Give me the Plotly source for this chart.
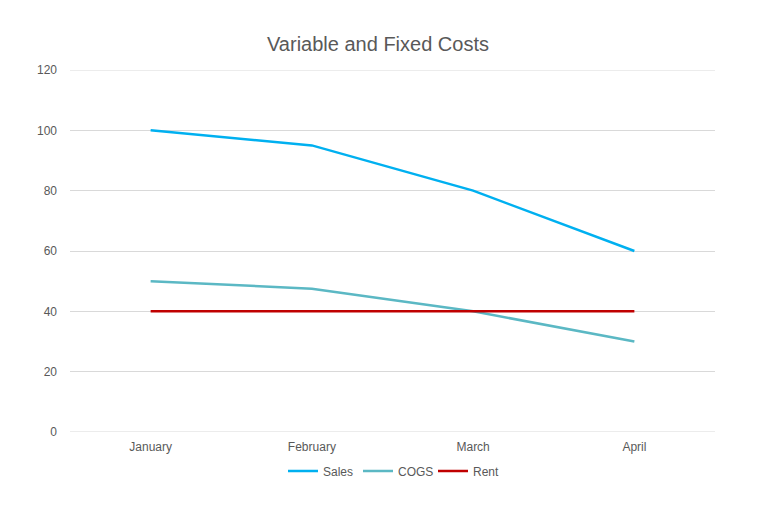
import plotly.graph_objects as go

months = ["January", "February", "March", "April"]
sales = [100, 95, 80, 60]
cogs = [50, 47.5, 40, 30]
rent = [40, 40, 40, 40]

font = "Liberation Sans, Arial, sans-serif"
fig = go.Figure()
fig.add_trace(go.Scatter(x=months, y=sales, mode="lines", name="Sales",
                         line=dict(color="#00B0F0", width=2.5)))
fig.add_trace(go.Scatter(x=months, y=cogs, mode="lines", name="COGS",
                         line=dict(color="#5BB8C4", width=2.5)))
fig.add_trace(go.Scatter(x=months, y=rent, mode="lines", name="Rent",
                         line=dict(color="#C00000", width=2.5)))

fig.update_layout(
    width=768, height=505,
    margin=dict(l=70, r=53, t=70, b=73),
    paper_bgcolor="white", plot_bgcolor="white",
    font=dict(family=font, color="#595959", size=12),
    title=dict(text="Variable and Fixed Costs", x=378 / 768, xanchor="center",
               y=1 - 44 / 505, yanchor="middle",
               font=dict(size=20, color="#595959", family=font)),
    xaxis=dict(range=[-0.5, 3.5], showgrid=False, showline=False, zeroline=False,
               ticks="", ticklabelstandoff=6, fixedrange=True),
    yaxis=dict(range=[0, 120], dtick=20, showgrid=True, gridcolor="#D9D9D9",
               gridwidth=1, zeroline=False, showline=False, ticks="",
               ticklabelstandoff=12),
    legend=dict(orientation="h", x=(283 - 70) / 645, xanchor="left", y=-39 / 362,
                yanchor="middle", font=dict(size=12, color="#595959"),
                itemwidth=30, tracegroupgap=0, entrywidth=30,
                entrywidthmode="pixels"),
    showlegend=True,
)
for yv in (0, 120):
    fig.add_shape(type="line", xref="paper", yref="y", x0=0, x1=1, y0=yv, y1=yv,
                  line=dict(color="#D9D9D9", width=1), layer="below")

fig.write_html("out.html")
